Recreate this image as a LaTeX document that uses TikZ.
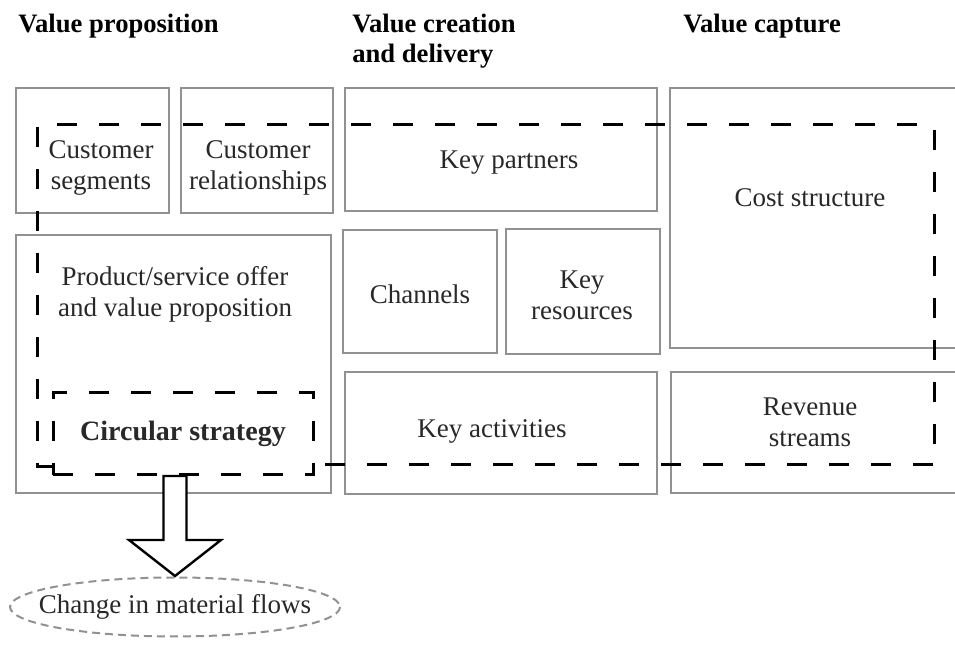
\documentclass[tikz,border=0pt]{standalone}
\usepackage{fontspec}
\setmainfont{Liberation Serif}
\usetikzlibrary{calc}
\definecolor{boxgray}{RGB}{145,145,145}
\definecolor{txtgray}{RGB}{40,40,40}

\begin{document}
\begin{tikzpicture}[x=0.5pt, y=-0.5pt,
    font=\fontsize{13.5}{15.5}\selectfont, text=txtgray,
    box/.style={draw=boxgray, line width=1.4pt},
    area/.style={line width=1.5pt, dash pattern=on 10pt off 11pt},
    head/.style={font=\fontsize{13.3}{15}\selectfont\bfseries, text=black, align=left, anchor=base west, inner sep=0pt}]
    \useasboundingbox (0,0) rectangle (955,646);
    % canvas blocks
    \foreach \xa/\ya/\xb/\yb in {16/88/169/213, 181/88/333/213, 345/88/657/211, 670/88/975/348,
            16/235/331/493, 343/230/497/353, 506/229/660/354, 345/372/657/494, 671/372/975/493}
        \draw [box] (\xa,\ya) rectangle (\xb,\yb);
    % column headers
    \node [head] (hprop) at (18,33) {Value proposition};
    \node [head] (hcreate) at (352,33) {Value creation};
    \node [head] (hdeliv) at (352,63) {and delivery};
    \node [head] (hcapt) at (683,33) {Value capture};
    % block texts
    \node [align=center] (seg) at (101,168) {Customer\\segments};
    \node [align=center] (rel) at (258,168) {Customer\\relationships};
    \node (partners) at (509,163) {Key partners};
    \node (cost) at (810,198) {Cost structure};
    \node [align=center] (offer) at (175,294) {Product/service offer\\and value proposition};
    \node (chan) at (420,294) {Channels};
    \node [align=center] (res) at (582,295) {Key\\resources};
    \node (act) at (492,431) {Key activities};
    \node [align=center] (rev) at (810,422) {Revenue\\streams};
    % circular part of the business model
    \draw [area] (53,467) -- (37,467) -- (37,125) -- (934,125) -- (934,465) -- (313,465);
    \node [area, draw, minimum width=130pt, minimum height=41pt,
        font=\fontsize{14}{16}\selectfont\bfseries] (circ) at (183,434) {Circular strategy};
    \node (flow) at (175,607) {Change in material flows};
    \draw [boxgray, line width=1pt, dash pattern=on 4pt off 2.5pt] (flow) ellipse [x radius=165, y radius=29.5];
    % block arrow down to the flows
    \draw [line width=1.2pt, fill=white] ($(flow)+(0,-31)$) -- ++(-46,-36) -- ++(34.5,0)
        -- ++(0,-64) -- ++(23,0) -- ++(0,64) -- ++(34.5,0) -- cycle;
\end{tikzpicture}
\end{document}
